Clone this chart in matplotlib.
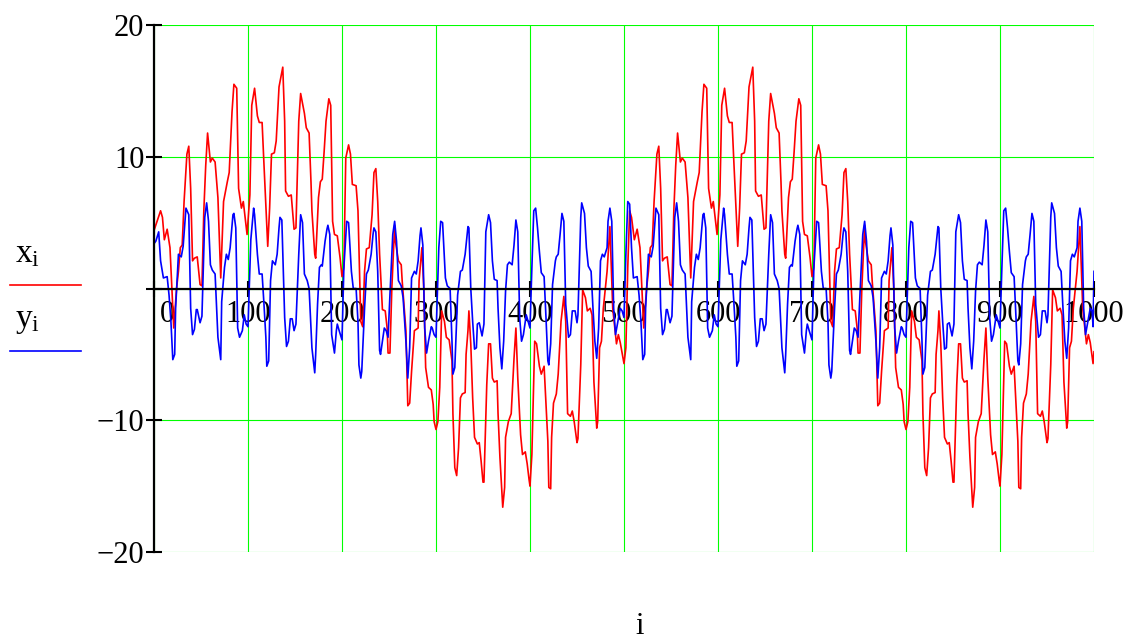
import matplotlib
matplotlib.use('Agg')
import matplotlib.pyplot as plt
from matplotlib.lines import Line2D
from matplotlib.transforms import ScaledTranslation

# x_i (red): 0..500
red_i = [0, 7, 9, 11, 14, 17, 19, 21, 24, 26, 28, 30, 32, 35, 37, 39, 41, 43, 46, 49,
         51, 53, 55, 57, 60, 62, 65, 68, 71, 74, 78, 80, 83, 85, 88, 90, 93, 95, 99, 102,
         104, 107, 110, 112, 115, 117, 121, 123, 125, 128, 130, 133, 137, 139, 140, 143, 146, 149, 151, 154,
         156, 160, 162, 165, 167, 168, 171, 172, 175, 177, 179, 181, 183, 186, 188, 190, 192, 195, 198, 200,
         202, 204, 207, 209, 211, 215, 217, 220, 222, 224, 226, 229, 232, 234, 236, 238, 240, 243, 246, 248,
         249, 251, 253, 256, 257, 260, 263, 264, 268, 270, 272, 274, 277, 281, 282, 285, 287, 289, 292, 295,
         297, 298, 300, 302, 304, 306, 309, 311, 314, 317, 318, 320, 322, 324, 326, 328, 331, 332, 334, 335,
         337, 339, 341, 344, 346, 348, 350, 351, 354, 356, 358, 360, 362, 365, 366, 368, 371, 373, 374, 377,
         380, 383, 385, 387, 390, 392, 395, 397, 399, 400, 402, 405, 407, 410, 412, 415, 417, 419, 420, 422,
         423, 425, 428, 430, 433, 436, 438, 440, 443, 445, 447, 450, 451, 454, 456, 459, 461, 464, 466, 468,
         471, 472, 474, 476, 478, 482, 485, 488, 492, 494, 496, 499, 500]
red_v = [4.4, 5.9, 5.4, 3.7, 4.5, 3.1, 0.0, -3.0, 0.0, 1.3, 3.1, 3.3, 6.6, 10.2, 10.8, 7.6, 2.1, 2.3, 2.4, 0.3,
         0.2, 5.9, 9.3, 11.8, 9.6, 9.9, 9.6, 6.9, 0.8, 6.6, 8.1, 8.8, 13.4, 15.5, 15.2, 7.6, 6.1, 6.6, 4.1, 7.1,
         13.9, 15.2, 13.1, 12.6, 12.6, 9.4, 3.2, 6.1, 10.2, 10.3, 11.2, 15.3, 16.8, 12.7, 7.4, 7.0, 7.1, 4.5, 4.6, 12.7,
         14.8, 13.3, 12.2, 11.8, 8.1, 5.9, 2.6, 2.3, 6.9, 8.1, 8.3, 10.4, 12.7, 14.4, 13.9, 5.1, 4.1, 4.0, 2.3, 0.9,
         1.6, 9.9, 10.9, 10.2, 7.9, 7.8, 5.9, -2.5, -2.9, 1.3, 3.0, 3.1, 5.6, 8.8, 9.1, 6.6, 2.6, -1.6, -1.7, -3.0,
         -4.9, -4.9, 0.0, 4.8, 3.5, 2.1, 1.8, 0.6, -3.2, -8.9, -8.7, -6.3, -3.2, -3.0, 0.6, 3.1, 0.0, -6.0, -7.5, -7.7,
         -8.8, -10.1, -10.7, -10.1, -7.5, -1.7, -2.5, -3.7, -3.9, -5.5, -9.5, -13.6, -14.2, -12.1, -8.3, -8.0, -7.9, -5.0, -3.2, -1.7,
         -4.2, -8.3, -11.3, -11.8, -11.7, -13.1, -14.7, -14.7, -7.3, -4.2, -4.2, -6.8, -7.1, -7.0, -9.5, -12.8, -16.6, -15.1, -11.3, -10.1,
         -9.5, -5.3, -3.0, -6.8, -11.1, -12.6, -12.4, -13.3, -14.5, -15.0, -12.6, -4.0, -4.2, -5.9, -6.5, -5.9, -8.8, -11.6, -15.1, -15.2,
         -11.3, -8.7, -8.0, -6.5, -2.5, -0.6, -2.5, -9.5, -9.7, -9.3, -10.1, -11.7, -11.4, -5.8, -0.1, -0.7, -1.7, -1.5, -2.0, -7.1,
         -10.6, -10.1, -4.5, -4.0, -1.5, 1.3, 4.7, -1.5, -4.2, -3.5, -4.1, -5.3, -5.7]

# x_i (red): 500..1000
red_i2 = [502, 504, 506, 508, 511, 514, 517, 519, 521, 524, 526, 528, 530, 532, 535, 537, 539, 541, 543, 546,
          549, 551, 553, 555, 557, 560, 562, 565, 568, 571, 574, 578, 580, 583, 585, 588, 590, 593, 595, 599,
          602, 604, 607, 610, 612, 615, 617, 621, 623, 625, 628, 630, 633, 637, 639, 640, 643, 646, 649, 651,
          654, 656, 660, 662, 665, 667, 668, 671, 672, 675, 677, 679, 681, 683, 686, 688, 690, 692, 695, 698,
          700, 702, 704, 707, 709, 711, 715, 717, 720, 722, 724, 726, 729, 732, 734, 736, 738, 740, 743, 746,
          748, 749, 751, 753, 756, 757, 760, 763, 764, 768, 770, 772, 774, 777, 781, 782, 785, 787, 789, 792,
          795, 797, 798, 800, 802, 804, 806, 809, 811, 814, 817, 818, 820, 822, 824, 826, 828, 831, 832, 834,
          835, 837, 839, 841, 844, 846, 848, 850, 851, 854, 856, 858, 860, 862, 865, 866, 868, 871, 873, 874,
          877, 880, 883, 885, 887, 890, 892, 895, 897, 899, 900, 902, 905, 907, 910, 912, 915, 917, 919, 920,
          922, 923, 925, 928, 930, 933, 936, 938, 940, 943, 945, 947, 950, 951, 954, 956, 959, 961, 964, 966,
          968, 971, 972, 974, 976, 978, 982, 985, 988, 992, 994, 996, 999, 1000]
red_v2 = [-4.5, 1.6, 5.9, 5.4, 3.7, 4.5, 3.1, 0.0, -3.0, 0.0, 1.3, 3.1, 3.3, 6.6, 10.2, 10.8, 7.6, 2.1, 2.3, 2.4,
          0.3, 0.2, 5.9, 9.3, 11.8, 9.6, 9.9, 9.6, 6.9, 0.8, 6.6, 8.1, 8.8, 13.4, 15.5, 15.2, 7.6, 6.1, 6.6, 4.1,
          7.1, 13.9, 15.2, 13.1, 12.6, 12.6, 9.4, 3.2, 6.1, 10.2, 10.3, 11.2, 15.3, 16.8, 12.7, 7.4, 7.0, 7.1, 4.5, 4.6,
          12.7, 14.8, 13.3, 12.2, 11.8, 8.1, 5.9, 2.6, 2.3, 6.9, 8.1, 8.3, 10.4, 12.7, 14.4, 13.9, 5.1, 4.1, 4.0, 2.3,
          0.9, 1.6, 9.9, 10.9, 10.2, 7.9, 7.8, 5.9, -2.5, -2.9, 1.3, 3.0, 3.1, 5.6, 8.8, 9.1, 6.6, 2.6, -1.6, -1.7,
          -3.0, -4.9, -4.9, 0.0, 4.8, 3.5, 2.1, 1.8, 0.6, -3.2, -8.9, -8.7, -6.3, -3.2, -3.0, 0.6, 3.1, 0.0, -6.0, -7.5,
          -7.7, -8.8, -10.1, -10.7, -10.1, -7.5, -1.7, -2.5, -3.7, -3.9, -5.5, -9.5, -13.6, -14.2, -12.1, -8.3, -8.0, -7.9, -5.0, -3.2,
          -1.7, -4.2, -8.3, -11.3, -11.8, -11.7, -13.1, -14.7, -14.7, -7.3, -4.2, -4.2, -6.8, -7.1, -7.0, -9.5, -12.8, -16.6, -15.1, -11.3,
          -10.1, -9.5, -5.3, -3.0, -6.8, -11.1, -12.6, -12.4, -13.3, -14.5, -15.0, -12.6, -4.0, -4.2, -5.9, -6.5, -5.9, -8.8, -11.6, -15.1,
          -15.2, -11.3, -8.7, -8.0, -6.5, -2.5, -0.6, -2.5, -9.5, -9.7, -9.3, -10.1, -11.7, -11.4, -5.8, -0.1, -0.7, -1.7, -1.5, -2.0,
          -7.1, -10.6, -10.1, -4.5, -4.0, -1.5, 1.3, 4.7, -1.5, -4.2, -3.5, -4.1, -5.7, -4.8]

# y_i (blue): 0..500
blue_i = [0, 2, 5, 7, 10, 14, 16, 18, 20, 22, 23, 26, 29, 31, 34, 37, 39, 41, 43, 45,
          46, 49, 51, 54, 56, 58, 60, 62, 65, 68, 71, 72, 75, 77, 79, 81, 84, 85, 87, 89,
          91, 94, 96, 98, 100, 103, 106, 107, 110, 112, 115, 117, 119, 120, 122, 124, 126, 129, 131, 133,
          134, 136, 139, 141, 143, 145, 147, 149, 151, 154, 156, 158, 160, 163, 165, 166, 168, 171, 172, 174,
          176, 178, 179, 182, 184, 185, 187, 189, 192, 194, 195, 197, 200, 202, 205, 207, 210, 212, 215, 217,
          218, 220, 221, 224, 226, 228, 231, 233, 234, 236, 238, 240, 241, 243, 245, 247, 249, 251, 254, 256,
          258, 260, 263, 265, 268, 270, 272, 274, 277, 279, 281, 283, 284, 286, 288, 290, 292, 295, 296, 298,
          300, 303, 305, 307, 310, 312, 315, 317, 318, 320, 323, 326, 328, 331, 332, 334, 335, 337, 339, 341,
          343, 344, 346, 349, 351, 353, 356, 358, 360, 362, 365, 366, 368, 370, 372, 374, 376, 378, 381, 383,
          385, 387, 389, 391, 393, 396, 398, 400, 402, 404, 406, 408, 410, 412, 415, 417, 419, 420, 422, 424,
          427, 428, 430, 432, 434, 436, 438, 441, 443, 445, 448, 450, 451, 454, 455, 458, 460, 462, 465, 467,
          469, 471, 473, 475, 477, 479, 482, 483, 485, 487, 489, 491, 493, 496, 498, 500]
blue_v = [3.4, 3.6, 4.3, 2.1, 0.8, 0.9, -0.5, -2.5, -5.4, -5.0, -1.5, 2.6, 2.4, 3.2, 6.1, 5.6, -1.5, -3.5, -3.1, -1.6,
          -1.6, -2.6, -2.1, 5.4, 6.5, 5.1, 1.8, 1.4, 1.1, -3.7, -5.4, -1.0, 1.6, 2.6, 2.2, 3.1, 5.6, 5.7, 4.6, -3.0,
          -3.7, -3.2, -2.0, -2.7, -2.9, 3.7, 6.1, 5.6, 2.6, 1.1, 1.1, -1.2, -3.7, -5.9, -5.5, 0.6, 2.1, 1.8, 2.6, 4.6,
          5.4, 5.2, -2.2, -4.4, -4.0, -2.3, -2.3, -3.2, -2.7, 2.6, 5.6, 5.0, 1.1, 0.6, 0.0, -1.5, -4.5, -6.4, -5.0, -1.2,
          1.6, 1.8, 1.7, 3.6, 4.5, 4.8, 4.1, -3.5, -4.9, -3.2, -2.7, -3.2, -3.9, 1.6, 5.1, 5.0, 1.3, 0.0, 0.0, -2.5,
          -5.8, -6.8, -6.3, -1.5, 1.1, 1.4, 2.6, 4.1, 4.6, 4.3, 1.3, -4.7, -5.0, -4.0, -3.0, -3.2, -3.7, -0.5, 4.1, 5.1,
          3.6, 0.6, 0.2, -0.7, -4.0, -6.8, -4.5, 0.8, 1.3, 1.1, 2.1, 4.0, 4.6, 3.3, -3.0, -4.9, -4.0, -2.9, -3.0, -3.5,
          -3.7, 3.1, 5.1, 5.0, 0.8, 0.2, 0.0, -4.0, -6.5, -6.0, -0.5, 1.3, 1.4, 2.6, 3.3, 4.7, 4.6, 0.0, -2.5, -4.6,
          -4.5, -2.7, -2.6, -3.6, -2.7, 4.3, 5.6, 5.0, 2.1, 0.7, 0.6, -1.5, -4.5, -6.1, -4.0, -0.2, 1.8, 2.0, 1.8, 3.3,
          5.2, 4.3, -2.2, -4.0, -3.5, -2.0, -2.5, -3.0, 1.6, 5.9, 6.1, 4.6, 2.8, 1.2, 0.9, -2.2, -5.5, -5.8, -4.2, 0.3,
          2.1, 2.4, 2.6, 4.1, 5.7, 5.1, -1.2, -3.7, -3.5, -1.7, -1.7, -2.6, -2.0, 5.4, 6.5, 5.7, 3.1, 1.7, 1.3, -1.5,
          -4.0, -5.3, -3.0, 2.1, 2.6, 2.4, 3.1, 5.1, 6.1, 5.1, -1.5, -3.5, -2.7, -1.5, -1.7, -2.2]

# y_i (blue): 500..1000
blue_i2 = [502, 504, 506, 508, 510, 514, 516, 518, 520, 522, 523, 526, 529, 531, 534, 537, 539, 541, 543, 545,
           546, 549, 551, 554, 556, 558, 560, 562, 565, 568, 571, 572, 575, 577, 579, 581, 584, 585, 587, 589,
           591, 594, 596, 598, 600, 603, 606, 607, 610, 612, 615, 617, 619, 620, 622, 624, 626, 629, 631, 633,
           634, 636, 639, 641, 643, 645, 647, 649, 651, 654, 656, 658, 660, 663, 665, 666, 668, 671, 672, 674,
           676, 678, 679, 682, 684, 685, 687, 689, 692, 694, 695, 697, 700, 702, 705, 707, 710, 712, 715, 717,
           718, 720, 721, 724, 726, 728, 731, 733, 734, 736, 738, 740, 741, 743, 745, 747, 749, 751, 754, 756,
           758, 760, 763, 765, 768, 770, 772, 774, 777, 779, 781, 783, 784, 786, 788, 790, 792, 795, 796, 798,
           800, 803, 805, 807, 810, 812, 815, 817, 818, 820, 823, 826, 828, 831, 832, 834, 835, 837, 839, 841,
           843, 844, 846, 849, 851, 853, 856, 858, 860, 862, 865, 866, 868, 870, 872, 874, 876, 878, 881, 883,
           885, 887, 889, 891, 893, 896, 898, 900, 902, 904, 906, 908, 910, 912, 915, 917, 919, 920, 922, 924,
           927, 928, 930, 932, 934, 936, 938, 941, 943, 945, 948, 950, 951, 954, 955, 958, 960, 962, 965, 967,
           969, 971, 973, 975, 977, 979, 982, 983, 985, 987, 989, 991, 993, 996, 998, 999, 1000]
blue_v2 = [2.6, 6.6, 6.4, 3.1, 0.8, 0.9, -0.5, -2.5, -5.4, -5.0, -1.5, 2.6, 2.4, 3.2, 6.1, 5.6, -1.5, -3.5, -3.1, -1.6,
           -1.6, -2.6, -2.1, 5.4, 6.5, 5.1, 1.8, 1.4, 1.1, -3.7, -5.4, -1.0, 1.6, 2.6, 2.2, 3.1, 5.6, 5.7, 4.6, -3.0,
           -3.7, -3.2, -2.0, -2.7, -2.9, 3.7, 6.1, 5.6, 2.6, 1.1, 1.1, -1.2, -3.7, -5.9, -5.5, 0.6, 2.1, 1.8, 2.6, 4.6,
           5.4, 5.2, -2.2, -4.4, -4.0, -2.3, -2.3, -3.2, -2.7, 2.6, 5.6, 5.0, 1.1, 0.6, 0.0, -1.5, -4.5, -6.4, -5.0, -1.2,
           1.6, 1.8, 1.7, 3.6, 4.5, 4.8, 4.1, -3.5, -4.9, -3.2, -2.7, -3.2, -3.9, 1.6, 5.1, 5.0, 1.3, 0.0, 0.0, -2.5,
           -5.8, -6.8, -6.3, -1.5, 1.1, 1.4, 2.6, 4.1, 4.6, 4.3, 1.3, -4.7, -5.0, -4.0, -3.0, -3.2, -3.7, -0.5, 4.1, 5.1,
           3.6, 0.6, 0.2, -0.7, -4.0, -6.8, -4.5, 0.8, 1.3, 1.1, 2.1, 4.0, 4.6, 3.3, -3.0, -4.9, -4.0, -2.9, -3.0, -3.5,
           -3.7, 3.1, 5.1, 5.0, 0.8, 0.2, 0.0, -4.0, -6.5, -6.0, -0.5, 1.3, 1.4, 2.6, 3.3, 4.7, 4.6, 0.0, -2.5, -4.6,
           -4.5, -2.7, -2.6, -3.6, -2.7, 4.3, 5.6, 5.0, 2.1, 0.7, 0.6, -1.5, -4.5, -6.1, -4.0, -0.2, 1.8, 2.0, 1.8, 3.3,
           5.2, 4.3, -2.2, -4.0, -3.5, -2.0, -2.5, -3.0, 1.6, 5.9, 6.1, 4.6, 2.8, 1.2, 0.9, -2.2, -5.5, -5.8, -4.2, 0.3,
           2.1, 2.4, 2.6, 4.1, 5.7, 5.1, -1.2, -3.7, -3.5, -1.7, -1.7, -2.6, -2.0, 5.4, 6.5, 5.7, 3.1, 1.7, 1.3, -1.5,
           -4.0, -5.3, -3.0, 2.1, 2.6, 2.4, 3.1, 5.1, 6.1, 5.1, -1.5, -3.5, -2.7, -1.5, -1.7, -2.9, 1.3]

x_ticks = list(range(0, 1001, 100))
y_ticks = [-20, -10, 0, 10, 20]
y_labels = ['\u221220', '\u221210', '', '10', '20']

plt.rcParams['font.family'] = ['Liberation Serif', 'DejaVu Serif']
plt.rcParams['mathtext.fontset'] = 'custom'
plt.rcParams['mathtext.rm'] = 'Liberation Serif'

fig = plt.figure(figsize=(11.34, 6.41), dpi=100)
ax = fig.add_axes([154 / 1134, 1 - 552 / 641, 940 / 1134, 527 / 641])

ax.plot(red_i + red_i2, red_v + red_v2, color='#ff0000', lw=1.2)
ax.plot(blue_i + blue_i2, blue_v + blue_v2, color='#0000ff', lw=1.2)

ax.set_xlim(0, 1000)
ax.set_ylim(-20, 20)
ax.set_xticks(x_ticks)
ax.set_yticks(y_ticks)
ax.set_yticklabels(y_labels)
ax.grid(color='#00ff00', lw=0.8)
ax.set_axisbelow(True)

ax.spines['top'].set_visible(False)
ax.spines['right'].set_visible(False)
ax.spines['bottom'].set_position(('data', 0))
ax.spines['bottom'].set_linewidth(1.6)
ax.spines['left'].set_linewidth(1.6)
ax.tick_params(axis='both', direction='inout', length=12, width=1.5, labelsize=22, colors='black')
ax.tick_params(axis='x', pad=2)
ax.tick_params(axis='y', pad=1)

# mathcad nudges the "0" label off the y axis
t0 = ax.xaxis.get_major_ticks()[0]
t0.label1.set_transform(t0.label1.get_transform() + ScaledTranslation(0.13, 0, fig.dpi_scale_trans))

fig.text(640 / 1134, 1 - 634 / 641, 'i', ha='center', va='baseline', fontsize=22)

# legend on the left
fig.text(15 / 1134, 1 - 262 / 641, r'$\mathregular{x_i}$', ha='left', va='baseline', fontsize=24)
fig.add_artist(Line2D([10 / 1134, 81 / 1134], [1 - 285 / 641] * 2, color='#ff0000', lw=1.2))
fig.text(15 / 1134, 1 - 327 / 641, r'$\mathregular{y_i}$', ha='left', va='baseline', fontsize=24)
fig.add_artist(Line2D([10 / 1134, 81 / 1134], [1 - 351 / 641] * 2, color='#0000ff', lw=1.2))

fig.savefig('out.png', dpi=100)
